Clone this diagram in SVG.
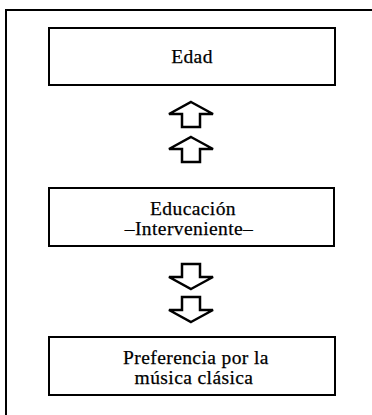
<svg xmlns="http://www.w3.org/2000/svg" xmlns:xlink="http://www.w3.org/1999/xlink" width="372" height="415" viewBox="0 0 372 415">
<style>
.box{fill:#fff;stroke:#000;stroke-width:2}
.lbl{font-family:"Liberation Serif","Times New Roman",serif;font-size:19.5px;letter-spacing:0.4px;fill:#000;text-anchor:middle;stroke:#000;stroke-width:0.25}
.arr{fill:#fff;stroke:#000;stroke-width:2.5;stroke-linejoin:miter}
.frame{fill:none;stroke:#000;stroke-width:2}
</style>
<defs>
<path id="up" d="M0,0 L22,12 L9,12 L9,25 L-9,25 L-9,12 L-22,12 Z"/>
<path id="down" d="M0,0 L22,-12 L9,-12 L9,-25 L-9,-25 L-9,-12 L-22,-12 Z"/>
</defs>
<rect width="372" height="415" fill="#fff"/>
<path class="frame" d="M6,415 L6,10 L372,10"/>
<g id="connectors">
<use href="#up" xlink:href="#up" class="arr" x="191" y="102"/>
<use href="#up" xlink:href="#up" class="arr" x="191" y="137"/>
<use href="#down" xlink:href="#down" class="arr" x="191" y="289"/>
<use href="#down" xlink:href="#down" class="arr" x="191" y="322"/>
</g>
<g id="node-edad">
<rect class="box" x="49" y="28" width="286" height="57"/>
<text class="lbl" x="192" y="63">Edad</text>
</g>
<g id="node-educacion">
<rect class="box" x="49" y="188" width="285" height="58"/>
<text class="lbl" x="193" y="215">Educación</text>
<text class="lbl" x="189" y="235">–Interveniente–</text>
</g>
<g id="node-preferencia">
<rect class="box" x="49" y="337" width="286" height="58"/>
<text class="lbl" x="196" y="364">Preferencia por la</text>
<text class="lbl" x="194" y="384">música clásica</text>
</g>
</svg>
